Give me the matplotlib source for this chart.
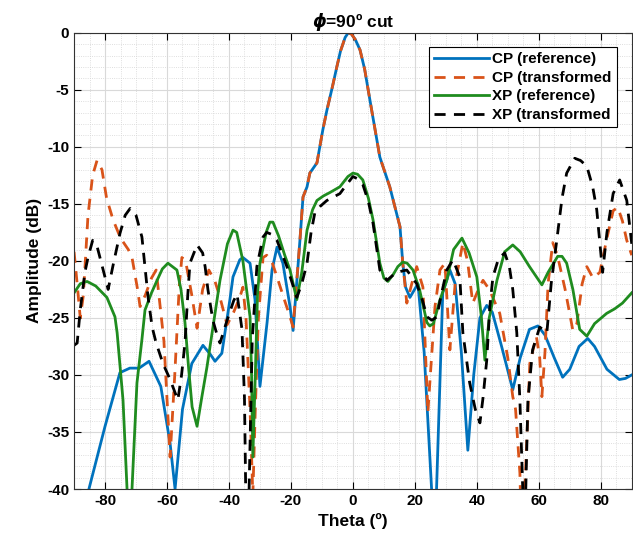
import numpy as np
import matplotlib
matplotlib.use("Agg")
import matplotlib.pyplot as plt
from matplotlib.ticker import MultipleLocator

plt.rcParams.update({
    "font.family": ["Liberation Sans", "DejaVu Sans"],
    "font.weight": "bold",
    "axes.labelweight": "bold",
    "axes.titleweight": "bold",
    "axes.unicode_minus": False,
})

# ---- data (theta in deg, amplitude in dB) ----
cp_ref_theta = [-90, -85.2, -80, -75.2, -72, -69, -65.8, -62, -59, -57.4, -55, -52, -48.4, -46,
                -44.5, -42.3, -39.7, -38.7, -36.5, -35.5, -33.2, -31.6, -30, -27.7, -26.1, -24.5,
                -22.6, -20.3, -19.3, -17.1, -16.1, -14.8, -13.9, -11.6, -9.7, -8.4, -6.5, -5.2, -4,
                -2.5, -1.5, -0.5, 0.8, 2.3, 3.8, 5.5, 8.7, 11.9, 15.2, 16.1, 17, 18.4, 21, 23, 25.4,
                26.2, 27, 29, 31.3, 33, 35, 37.1, 39, 41, 43.2, 45, 48, 51.6, 54, 57, 59.7, 62, 65,
                67.7, 70, 73, 75.8, 78, 82, 86, 88, 90]
cp_ref_db = [-46, -40, -34.5, -29.8, -29.4, -29.4, -28.8, -31, -36, -40, -33, -29, -27.4, -28.2,
             -28.8, -28.1, -23.4, -21.4, -19.9, -19.7, -20.2, -23.4, -31, -25.4, -20.8, -18.8,
             -20.2, -24, -26.1, -18.2, -14.4, -13.5, -12.3, -11.4, -8.5, -6.8, -4.6, -3.0, -1.6,
             -0.4, 0, -0.1, -0.6, -1.5, -3.2, -5.9, -10.9, -13.5, -17.0, -20.2, -22.3, -23.2, -22.0,
             -28, -40, -46, -40, -22.8, -20.8, -22, -28, -36.6, -30, -25, -23.9, -24.5, -27.5,
             -31.3, -28.5, -26, -25.7, -26.5, -28.5, -30.2, -29.5, -27.5, -26.8, -27.5, -29.5,
             -30.4, -30.3, -30.0]

cp_tr_theta = [-90, -89, -88, -87, -85.5, -84, -82.6, -81, -79.5, -77.4, -75, -72.5, -71.3, -69.5,
               -68.7, -67, -65, -63.5, -61, -59, -57.5, -56, -55.2, -54, -52, -50.3, -48.5, -46.5,
               -44.5, -42.9, -40.6, -38.5, -36.5, -35.5, -34.5, -33.2, -32.3, -31.5, -30.5, -29,
               -27.8, -26, -24.5, -22, -20.3, -19.3, -17.1, -16.1, -14.8, -13.9, -11.6, -9.7, -8.4,
               -6.5, -5.2, -4, -2.5, -1.5, -0.5, 0.8, 2.3, 3.8, 5.5, 8.7, 11.9, 15.2, 16.1, 17.4,
               19, 20.6, 22.6, 24.2, 25, 26.5, 28.1, 29.7, 30.5, 31.3, 33, 35.5, 37, 38.7, 40.5,
               42, 44, 47.4, 50, 51.6, 52.5, 53.9, 54.6, 55.5, 57.1, 59.2, 60.3, 61, 62, 63, 64.5,
               66, 68.5, 71, 72.3, 74, 75.5, 77.5, 79.7, 82, 84, 85.5, 87, 88.4, 90]
cp_tr_db = [-19.2, -22, -25, -23, -16, -12.5, -11.2, -12, -14.5, -16.4, -18, -19, -19.7, -22.5,
            -24.0, -23, -21.5, -20.8, -27, -37.2, -30, -22, -19.7, -20, -23, -25.9, -22.5, -20.8,
            -21.8, -23.2, -25.6, -24.5, -23.2, -22.3, -25, -33, -40.5, -33, -25, -19.7, -19.5,
            -20.2, -21.4, -23.5, -24.9, -25.8, -18.2, -14.4, -13.5, -12.3, -11.4, -8.5, -6.8,
            -4.6, -3.0, -1.6, -0.4, 0, -0.1, -0.6, -1.5, -3.2, -5.9, -10.9, -13.5, -17.0, -20.2,
            -23.7, -22, -20.5, -22.3, -33.3, -30, -24, -20.8, -20.2, -24, -27.8, -22, -18.4, -20,
            -23.7, -22.5, -21.7, -22.5, -24.6, -28.5, -31.9, -33, -38.6, -46, -40, -29, -26.6,
            -28.5, -31.9, -28, -22, -18.4, -19.5, -22.5, -26.1, -25.5, -22, -20.5, -21.5, -21,
            -18, -15.6, -15.3, -16.5, -18.2, -19.5]

xp_ref_theta = [-90, -88, -85.8, -83, -79.4, -76.8, -76.1, -74.2, -72.9, -72.2, -71.3, -69.7,
                -68.1, -67.1, -65, -63.2, -61.5, -59.7, -56.8, -55.5, -54.2, -53, -51.9, -50.3,
                -48.8, -47.1, -45, -42.9, -40.5, -38.7, -37.5, -35.5, -33.2, -32.7, -32.3, -31.5,
                -30.8, -30, -28, -26.8, -25.8, -24, -22, -20.3, -18.1, -16.5, -14.8, -13, -11.6,
                -9.5, -7.4, -4.2, -1.6, 0, 1.5, 3.2, 5, 6.5, 8.7, 10, 11.3, 13, 14.5, 16.1, 17.5,
                19.4, 21.5, 23.9, 24.8, 26, 28, 30.3, 32.5, 35.2, 37.5, 40, 41.5, 42.6, 44, 46.5,
                49, 51.6, 54, 57, 61, 63, 66.1, 67.5, 69, 71, 73.2, 75.5, 78, 81.9, 84.5, 87, 90]
xp_ref_db = [-22.8, -22, -21.8, -22.2, -23.2, -24.9, -26.3, -32.2, -40, -46, -40, -30.7, -26.9,
             -24.3, -22.8, -21.7, -20.7, -20.2, -20.8, -22.5, -25.4, -29.5, -32.8, -34.5, -32,
             -29.3, -25.5, -21.7, -18.5, -17.3, -17.5, -20, -24.9, -30, -37.2, -30, -23, -20.2,
             -17.5, -16.6, -16.6, -17.8, -19.5, -20.8, -23.4, -21, -17.3, -15.5, -14.7, -14.3,
             -14.0, -13.5, -12.6, -12.3, -12.4, -12.9, -14.5, -16.4, -20.2, -21.5, -21.8, -21.2,
             -20.5, -20.1, -20.2, -20.8, -22.5, -25.4, -25.7, -25.5, -23.5, -21.7, -19, -18.0,
             -19.3, -21.4, -25, -28.7, -25, -21.7, -19.2, -18.6, -19.2, -20.5, -22.1, -21,
             -19.6, -19.6, -20.2, -22.5, -26, -26.6, -25.5, -24.6, -24.2, -23.7, -22.8]

xp_tr_theta = [-90, -89, -88, -86.5, -85.5, -84, -82.5, -80.6, -79, -77.5, -75.2, -73.5, -71.9,
               -70, -68.1, -66.1, -64.8, -63.5, -61.3, -59, -56.5, -55.3, -54.2, -53.3, -52.6,
               -50.3, -48.5, -47.7, -46.8, -45.2, -43.5, -42.9, -40.6, -38.5, -37.4, -35.8, -35,
               -34.3, -33.5, -32.5, -31, -29, -27.8, -26, -24.5, -21.3, -18.1, -16.5, -14.8,
               -13.5, -12.3, -10.5, -8.4, -4.2, -2, 0, 1.5, 3.2, 5, 6.5, 8.7, 11, 14, 17.4, 20.6,
               22.5, 23.9, 25.5, 27.1, 28.5, 30.3, 32.3, 34.5, 35.5, 37.7, 39.5, 41, 42, 43.2,
               44.2, 45.2, 47, 49, 50.5, 51.6, 52.9, 53.9, 54.8, 55.2, 55.8, 56.5, 58, 60.3, 62.6,
               64, 65.8, 67.5, 69, 71.6, 73.5, 75.5, 77.4, 78.7, 80.6, 82, 84, 86.1, 88.4, 90]
xp_tr_db = [-27.4, -27.2, -24.3, -21, -19.7, -18.2, -18.8, -20.8, -22.5, -20.5, -17.6, -16,
            -15.4, -16, -17.9, -23.2, -25.8, -27.2, -29, -30.4, -32.2, -30, -27.2, -23, -20.2,
            -18.6, -19.3, -20.5, -22.5, -25.2, -26.8, -27.2, -25.2, -23.5, -22.9, -26, -32, -46,
            -40, -27, -20.5, -17.9, -17.5, -17.7, -18.2, -20.5, -23.2, -22, -20.2, -17.5, -15.8,
            -15.2, -14.7, -14.1, -13.3, -12.6, -12.8, -13.3, -14.8, -16.7, -20.8, -21.7, -21,
            -20.8, -22, -23.5, -24.9, -25.2, -24.9, -23, -20.8, -19.9, -21.4, -26.3, -30.7,
            -33, -34.2, -32, -28.7, -24, -21.4, -19.8, -19.3, -20.5, -22.5, -26.3, -32.2,
            -39.8, -46, -40, -32.2, -27.8, -25.8, -26.3, -22, -18.2, -14.5, -12.3, -11.0,
            -11.2, -11.7, -13.5, -15.5, -21.0, -17.5, -14.1, -12.9, -14.7, -18.5]

labels = ["CP (reference)", "CP (transformed", "XP (reference)", "XP (transformed"]

fig = plt.figure(figsize=(6.33, 5.47), dpi=100)
ax = fig.add_axes([0.117, 0.106, 0.881, 0.834])

ax.plot(cp_ref_theta, cp_ref_db, color="#0072BD", lw=2, label=labels[0])
ax.plot(cp_tr_theta, cp_tr_db, color="#D95319", lw=2, ls="--", dashes=(4, 3), label=labels[1])
ax.plot(xp_ref_theta, xp_ref_db, color="#1f8c1f", lw=2, label=labels[2])
ax.plot(xp_tr_theta, xp_tr_db, color="black", lw=2, ls="--", dashes=(4, 3), label=labels[3])

ax.set_xlim(-90, 90)
ax.set_ylim(-40, 0)
ax.xaxis.set_major_locator(MultipleLocator(20))
ax.xaxis.set_minor_locator(MultipleLocator(5))
ax.yaxis.set_major_locator(MultipleLocator(5))
ax.yaxis.set_minor_locator(MultipleLocator(1))
ax.grid(True, which="major", color="#d9d9d9", lw=0.8)
ax.grid(True, which="minor", color="#d4d4d4", lw=0.6, ls=":")
ax.set_axisbelow(True)
ax.tick_params(which="both", direction="in", top=True, right=True, labelsize=11)
ax.tick_params(which="minor", length=0)
ax.tick_params(which="major", length=5)
for s in ax.spines.values():
    s.set_color("#333333")
    s.set_linewidth(0.8)

ax.set_xlabel("Theta (º)", fontsize=12.5)
ax.set_ylabel("Amplitude (dB)", fontsize=12.5)
ax.set_title(r"$\phi$=90º cut", fontsize=12.5, pad=4)

leg = ax.legend(loc="upper right", bbox_to_anchor=(0.973, 0.969), borderaxespad=0,
                fancybox=False, edgecolor="black", framealpha=1, fontsize=11,
                handlelength=3.6, handletextpad=0.2, labelspacing=0.3, borderpad=0.35)
leg.get_frame().set_linewidth(0.8)

plt.savefig("out.png", dpi=100)
